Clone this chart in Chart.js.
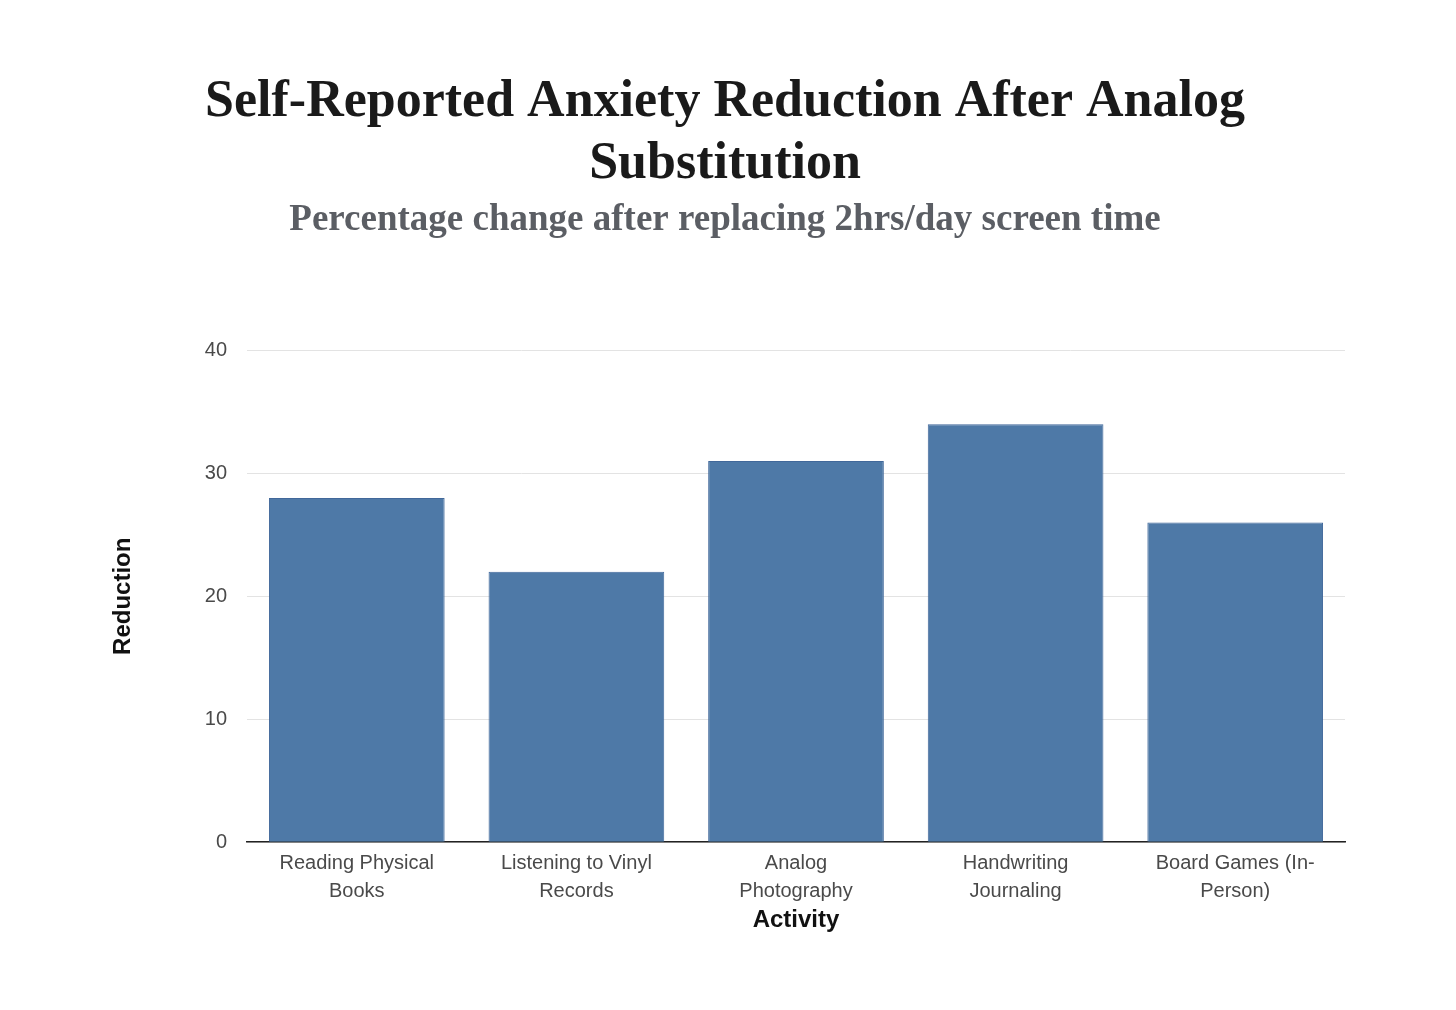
<!DOCTYPE html>
<html>
<head>
<meta charset="utf-8">
<script src="https://cdn.jsdelivr.net/npm/chart.js@4.4.1/dist/chart.umd.min.js"></script>
<style>
    html, body { margin: 0; padding: 0; background: #ffffff; }
    #wrap { width: 1456px; height: 1010px; }
</style>
</head>
<body>
<div id="wrap"><canvas id="chart" width="1456" height="1010"></canvas></div>
<script>
// 데이터
const activities = [
    ['Reading Physical', 'Books'],
    ['Listening to Vinyl', 'Records'],
    ['Analog', 'Photography'],
    ['Handwriting', 'Journaling'],
    ['Board Games (In-', 'Person)']
];
const reductionValues = [28, 22, 31, 34, 26];
const yTicks = [0, 10, 20, 30, 40];

const titleLines = ['Self-Reported Anxiety Reduction After Analog', 'Substitution'];
const subtitleText = 'Percentage change after replacing 2hrs/day screen time';

const serif = '"Liberation Serif", "DejaVu Serif", serif';
const sans = '"Liberation Sans", Arial, sans-serif';

const ctx = document.getElementById('chart').getContext('2d');

new Chart(ctx, {
    type: 'bar',
    data: {
        labels: activities,
        datasets: [{
            label: 'Reduction',
            data: reductionValues,
            backgroundColor: '#4e79a7',
            borderColor: '#41689a',
            borderWidth: 1,
            barPercentage: 0.8,
            categoryPercentage: 1.0
        }]
    },
    options: {
        responsive: false,
        animation: false,
        layout: {
            padding: { top: 0, left: 105, right: 111, bottom: 75 }
        },
        plugins: {
            legend: { display: false },
            tooltip: { enabled: false },
            title: {
                display: true,
                text: titleLines,
                color: '#1a1a1a',
                font: { family: serif, size: 52, weight: 'bold', lineHeight: 1.2 },
                padding: { top: 71, bottom: 3 }
            },
            subtitle: {
                display: true,
                text: subtitleText,
                color: '#5b5e64',
                font: { family: serif, size: 37, weight: 'bold', lineHeight: 1.15 },
                padding: { top: 0, bottom: 109 }
            }
        },
        scales: {
            x: {
                grid: { display: false, drawTicks: false },
                border: { display: true, color: '#222222', width: 1.5 },
                ticks: {
                    color: '#4a4a4a',
                    font: { family: sans, size: 20, lineHeight: 1.4 },
                    padding: 7,
                    maxRotation: 0,
                    autoSkip: false
                },
                title: {
                    display: true,
                    text: 'Activity',
                    color: '#111111',
                    font: { family: sans, size: 24, weight: 'bold' },
                    padding: { top: -6, bottom: 0 }
                }
            },
            y: {
                min: 0,
                max: 40,
                afterBuildTicks: function(scale) {
                    scale.ticks = yTicks.map(v => ({ value: v }));
                },
                afterFit: function(scale) {
                    scale.width = 142;
                },
                grid: { color: '#e3e3e3', lineWidth: 1, drawTicks: false },
                border: { display: false },
                ticks: {
                    color: '#4a4a4a',
                    font: { family: sans, size: 20 },
                    padding: 20
                },
                title: {
                    display: true,
                    text: 'Reduction',
                    color: '#111111',
                    font: { family: sans, size: 24, weight: 'bold' },
                    padding: { top: 4, bottom: 0 }
                }
            }
        }
    }
});
</script>
</body>
</html>
